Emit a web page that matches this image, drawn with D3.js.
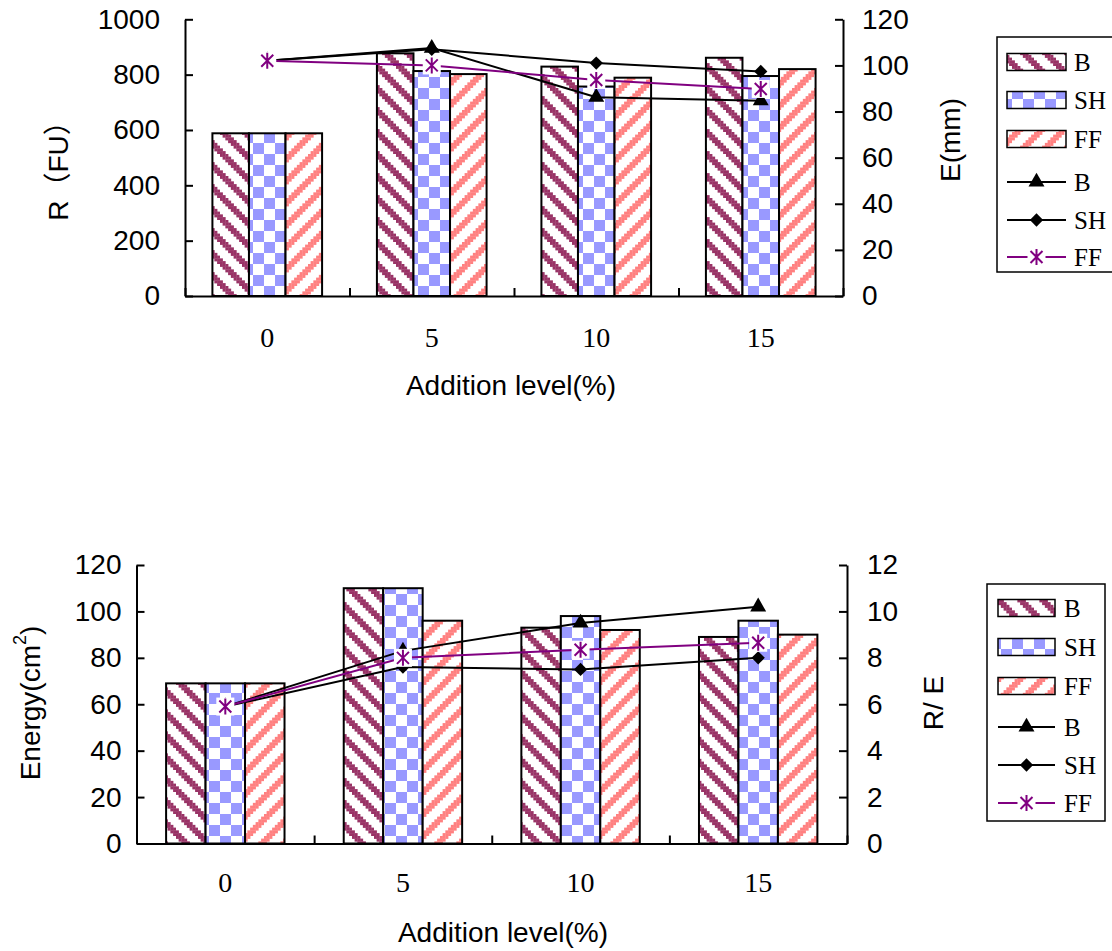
<!DOCTYPE html>
<html><head><meta charset="utf-8">
<script src="https://cdn.jsdelivr.net/npm/d3@7"></script>
<style>body{margin:0;background:#fff} svg{display:block}</style>
</head><body>
<script>
// ---------- data ----------
const categories = ["0", "5", "10", "15"];
const seriesNames = ["B", "SH", "FF"];
// top chart: R (FU) bars, E (mm) lines
const rB  = [588, 877, 829, 861];
const rSH = [588, 813, 757, 795];
const rFF = [588, 802, 789, 820];
const eB  = [102, 107.5, 86.2, 84.7];
const eSH = [102, 107, 101, 97.4];
const eFF = [102, 100, 93.7, 89.8];
// bottom chart: Energy (cm2) bars, R/E lines
const energyB  = [69, 110, 93, 89];
const energySH = [69, 110, 98, 96];
const energyFF = [69, 96, 92, 90];
const reB  = [5.9, 8.3, 9.5, 10.2];
const reSH = [5.9, 7.6, 7.5, 8.0];
const reFF = [5.9, 8.0, 8.35, 8.65];
// tick labels
const ticksR = [0, 200, 400, 600, 800, 1000];
const ticksE = [0, 20, 40, 60, 80, 100, 120];
const ticksEnergy = [0, 20, 40, 60, 80, 100, 120];
const ticksRE = [0, 2, 4, 6, 8, 10, 12];

// ---------- setup ----------
const W = 1112, H = 951;
const svg = d3.select("body").append("svg").attr("width", W).attr("height", H);
const defs = svg.append("defs");
const SANS = "Liberation Sans, Arial, sans-serif";
const SERIF = "Liberation Serif, Times New Roman, serif";
const colB = "#993366", colSH = "#9999FF", colFF = "#FF8080", colPurple = "#800080";

// stripe patterns built from 8x8 "pixel" rows
function stripePattern(id, color, down) {
  const u = 2.75, n = 8, s = u * n;
  const p = defs.append("pattern").attr("id", id).attr("patternUnits", "userSpaceOnUse")
    .attr("width", s).attr("height", s);
  p.append("rect").attr("width", s).attr("height", s).attr("fill", "#fff");
  for (let r = 0; r < n; r++) {
    const start = down ? r : (n - r) % n;
    const cols = [start, (start + 1) % n, (start + 2) % n];
    cols.forEach(c => {
      p.append("rect").attr("x", c * u - 0.15).attr("y", r * u - 0.15)
        .attr("width", u + 0.3).attr("height", u + 0.3).attr("fill", color);
    });
  }
}
stripePattern("patB", colB, true);
stripePattern("patFF", colFF, false);
(function () {
  const c = 11;
  const p = defs.append("pattern").attr("id", "patSH").attr("patternUnits", "userSpaceOnUse")
    .attr("width", 2 * c).attr("height", 2 * c);
  p.append("rect").attr("width", 2 * c).attr("height", 2 * c).attr("fill", "#fff");
  p.append("rect").attr("x", 0).attr("y", 0).attr("width", c).attr("height", c).attr("fill", colSH);
  p.append("rect").attr("x", c).attr("y", c).attr("width", c).attr("height", c).attr("fill", colSH);
})();
const fills = ["url(#patB)", "url(#patSH)", "url(#patFF)"];

// markers
function drawMarker(g, kind, x, y) {
  if (kind === "tri") {
    g.append("path").attr("d", d3.symbol().type(d3.symbolTriangle).size(110)())
      .attr("transform", `translate(${x},${y})`).attr("fill", "#000");
  } else if (kind === "dia") {
    g.append("path").attr("d", d3.symbol().type(d3.symbolSquare).size(88)())
      .attr("transform", `translate(${x},${y}) rotate(45)`).attr("fill", "#000");
  } else {
    g.append("rect").attr("x", x - 9).attr("y", y - 9).attr("width", 18).attr("height", 18).attr("fill", "#fff");
    const a = 6, v = 8;
    g.append("path").attr("d", `M${x - a},${y - a}L${x + a},${y + a}M${x - a},${y + a}L${x + a},${y - a}M${x},${y - v}L${x},${y + v}`)
      .attr("stroke", colPurple).attr("stroke-width", 2).attr("fill", "none");
  }
}
const lineStyles = [
  { color: "#000", marker: "tri" },
  { color: "#000", marker: "dia" },
  { color: colPurple, marker: "ast" }
];

function drawChart(cfg) {
  const g = svg.append("g");
  const x = d3.scaleBand().domain(categories).range([cfg.x0, cfg.x1]).paddingInner(0).paddingOuter(0);
  const step = x.bandwidth();
  const barW = step / 4.5;
  const sub = d3.scaleBand().domain(seriesNames).range([0.75 * barW, step - 0.75 * barW]);
  const yL = d3.scaleLinear().domain([0, cfg.leftMax]).range([cfg.yBot, cfg.yTop]);
  const yR = d3.scaleLinear().domain([0, cfg.rightMax]).range([cfg.yBot, cfg.yTop]);

  // bars
  cfg.bars.forEach((arr, si) => {
    g.append("g").selectAll("rect").data(arr).join("rect")
      .attr("x", (d, i) => x(categories[i]) + sub(seriesNames[si]))
      .attr("width", sub.bandwidth())
      .attr("y", d => yL(d))
      .attr("height", d => yL(0) - yL(d))
      .attr("fill", fills[si]).attr("stroke", "#000").attr("stroke-width", 2);
  });

  // axes
  const fmt = d3.format("d");
  const axL = g.append("g").attr("transform", `translate(${cfg.x0},0)`)
    .call(d3.axisLeft(yL).tickValues(cfg.leftTicks).tickFormat(fmt).tickSizeInner(-8).tickSizeOuter(0).tickPadding(cfg.leftPad));
  const axR = g.append("g").attr("transform", `translate(${cfg.x1},0)`)
    .call(d3.axisRight(yR).tickValues(cfg.rightTicks).tickFormat(fmt).tickSizeInner(-8).tickSizeOuter(0).tickPadding(cfg.rightPad));
  const xl = d3.scaleLinear().domain([0, 4]).range([cfg.x0, cfg.x1]);
  const axX = g.append("g").attr("transform", `translate(0,${cfg.yBot})`)
    .call(d3.axisBottom(xl).tickValues([0, 1, 2, 3, 4]).tickSizeInner(-8).tickSizeOuter(0).tickFormat(""));
  const axXL = g.append("g").attr("transform", `translate(0,${cfg.yBot})`)
    .call(d3.axisBottom(x).tickSize(0).tickPadding(cfg.xPad));
  axXL.select(".domain").remove();
  [axL, axR, axX].forEach(a => {
    a.selectAll("path,line").attr("stroke", "#000").attr("stroke-width", 2);
    a.selectAll("text").attr("font-family", SANS).attr("font-size", 28).attr("fill", "#000");
  });
  axXL.selectAll("text").attr("font-family", SERIF).attr("font-size", 28).attr("fill", "#000");

  // lines
  cfg.lines.forEach((arr, si) => {
    const st = lineStyles[si];
    const lg = g.append("g");
    lg.append("path").datum(arr)
      .attr("d", d3.line().x((d, i) => x(categories[i]) + step / 2).y(d => yR(d)))
      .attr("fill", "none").attr("stroke", st.color).attr("stroke-width", 2);
    arr.forEach((d, i) => drawMarker(lg, st.marker, x(categories[i]) + step / 2, yR(d)));
  });

  // titles
  const tl = g.append("text").attr("transform", `translate(${cfg.leftTitle.x},${cfg.leftTitle.y}) rotate(-90)`)
    .attr("text-anchor", "middle").attr("dominant-baseline", "central")
    .attr("font-family", SANS + ", Noto Sans CJK SC").attr("font-size", 28);
  cfg.leftTitle.parts.forEach(p => {
    const t = tl.append("tspan").text(p.t);
    if (p.sup) t.attr("baseline-shift", "super").attr("font-size", 18);
  });
  g.append("text").attr("transform", `translate(${cfg.rightTitle.x},${cfg.rightTitle.y}) rotate(-90)`)
    .attr("text-anchor", "middle").attr("dominant-baseline", "central")
    .attr("font-family", SANS).attr("font-size", 28).text(cfg.rightTitle.t);
  g.append("text").attr("x", cfg.xTitle.x).attr("y", cfg.xTitle.y)
    .attr("text-anchor", "middle").attr("dominant-baseline", "central")
    .attr("font-family", SANS).attr("font-size", 28).text("Addition level(%)");

  // legend
  const L = cfg.legend;
  const lgd = g.append("g");
  lgd.append("rect").attr("x", L.x).attr("y", L.y).attr("width", L.w).attr("height", L.h)
    .attr("fill", "#fff").attr("stroke", "#000").attr("stroke-width", 1.5);
  const names = seriesNames.concat(seriesNames);
  names.forEach((nm, k) => {
    const cy = L.rows[k];
    if (k < 3) {
      lgd.append("rect").attr("x", L.sx).attr("y", cy - 8.5).attr("width", L.sw).attr("height", 17)
        .attr("fill", fills[k]).attr("stroke", "#000").attr("stroke-width", 1.5);
    } else {
      const st = lineStyles[k - 3];
      lgd.append("line").attr("x1", L.sx).attr("x2", L.sx + L.sw).attr("y1", cy).attr("y2", cy)
        .attr("stroke", st.color).attr("stroke-width", 2);
      drawMarker(lgd, st.marker, L.sx + L.sw / 2, cy);
    }
    lgd.append("text").attr("x", L.tx).attr("y", cy + 8.5).attr("font-family", SERIF)
      .attr("font-size", 25).text(nm);
  });
}

drawChart({
  x0: 185, x1: 843, yTop: 19.3, yBot: 296,
  leftMax: 1000, rightMax: 120, leftTicks: ticksR, rightTicks: ticksE,
  bars: [rB, rSH, rFF], lines: [eB, eSH, eFF],
  leftPad: 25, rightPad: 19, xPad: 31,
  leftTitle: { x: 58, y: 164, parts: [{ t: "R（FU）" }] },
  rightTitle: { x: 950, y: 140, t: "E(mm)" },
  xTitle: { x: 511, y: 385 },
  legend: { x: 997, y: 37, w: 140, h: 235, sx: 1007, sw: 59, tx: 1074,
    rows: [62, 100, 139, 182, 220, 257] }
});

drawChart({
  x0: 136.5, x1: 847, yTop: 565, yBot: 843.5,
  leftMax: 120, rightMax: 12, leftTicks: ticksEnergy, rightTicks: ticksRE,
  bars: [energyB, energySH, energyFF], lines: [reB, reSH, reFF],
  leftPad: 15, rightPad: 20, xPad: 29,
  leftTitle: { x: 30, y: 703, parts: [{ t: "Energy(cm" }, { t: "2", sup: true }, { t: ")" }] },
  rightTitle: { x: 933, y: 703, t: "R/ E" },
  xTitle: { x: 503, y: 932 },
  legend: { x: 987, y: 584, w: 118, h: 237, sx: 998, sw: 57, tx: 1064,
    rows: [608, 647, 686, 727, 765, 803] }
});
</script>
</body></html>
